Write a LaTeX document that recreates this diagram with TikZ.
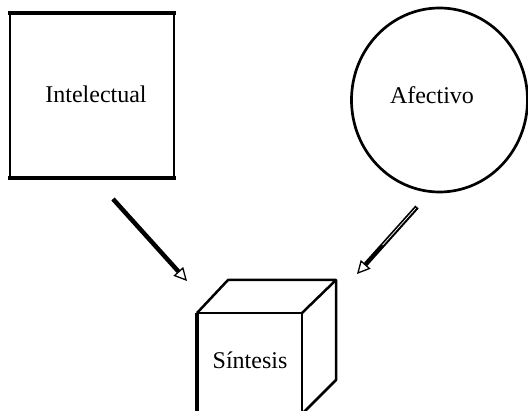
\documentclass[tikz,border=0pt]{standalone}
\usepackage{fontspec}
\setmainfont{Liberation Serif}
\usetikzlibrary{arrows.meta,shapes.geometric,calc}
\begin{document}
\begin{tikzpicture}[x=1pt,y=-1pt,
  lbl/.style={font=\fontsize{24}{28}\selectfont, inner sep=0pt},
  edge/.style={line width=2.5pt, line join=round},
  heavy/.style={line width=4.5pt, line cap=butt,
    -{Triangle[fill=white, line width=1.3pt, length=13pt, width=13pt]}}]
\useasboundingbox (0,0) rectangle (528,411);
\clip (0,0) rectangle (528,411);

% square: intellectual
\node[draw, line width=2pt, minimum width=164pt, minimum height=163pt,
      inner sep=0pt] (intel) at (92,95.5) {};
\draw[line width=4.5pt] ([xshift=-1pt]intel.north west) -- ([xshift=1pt]intel.north east);
\draw[line width=4.5pt] ([xshift=-1pt]intel.south west) -- ([xshift=1pt]intel.south east);
\node[lbl] (intelt) at (96,94) {Intelectual};

% circle: affective
\node[draw, ellipse, line width=2.7pt, minimum width=176pt, minimum height=184pt,
      inner sep=0pt] (afec) at (439.5,100) {};
\node[lbl] (afect) at (432,95) {Afectivo};

% cube: synthesis
\coordinate (ftl) at (197,313);
\coordinate (ftr) at (302,313);
\coordinate (fbl) at (197,440);
\coordinate (fbr) at (302,440);
\coordinate (btl) at (228,280);
\coordinate (btr) at (336,280);
\coordinate (bbr) at (336,380);
\coordinate (bdr) at (302,414);
\draw[line width=3.2pt] (fbl) -- (ftl);
\draw[edge] (ftl) -- (ftr) -- (fbr);
\draw[edge] (ftl) -- (btl) -- (btr) -- (ftr);
\draw[edge] (btr) -- (bbr) -- (bdr);
\node[lbl] (sint) at (250,360) {Síntesis};

% arrows
\coordinate (a1) at (113,199);
\coordinate (a2) at (187,281);
\draw[heavy] (a1) -- (a2);

\coordinate (b1) at (417,207);
\coordinate (b2) at (357,274);
\coordinate (bm) at ($(b1)!0.55!(b2)$);
\draw[heavy] (b1) -- (b2);
\draw[white, line width=0.7pt] ([xshift=-1.4pt,yshift=-1.3pt]b1) -- ([xshift=-1.4pt,yshift=-1.3pt]bm);
\end{tikzpicture}
\end{document}
